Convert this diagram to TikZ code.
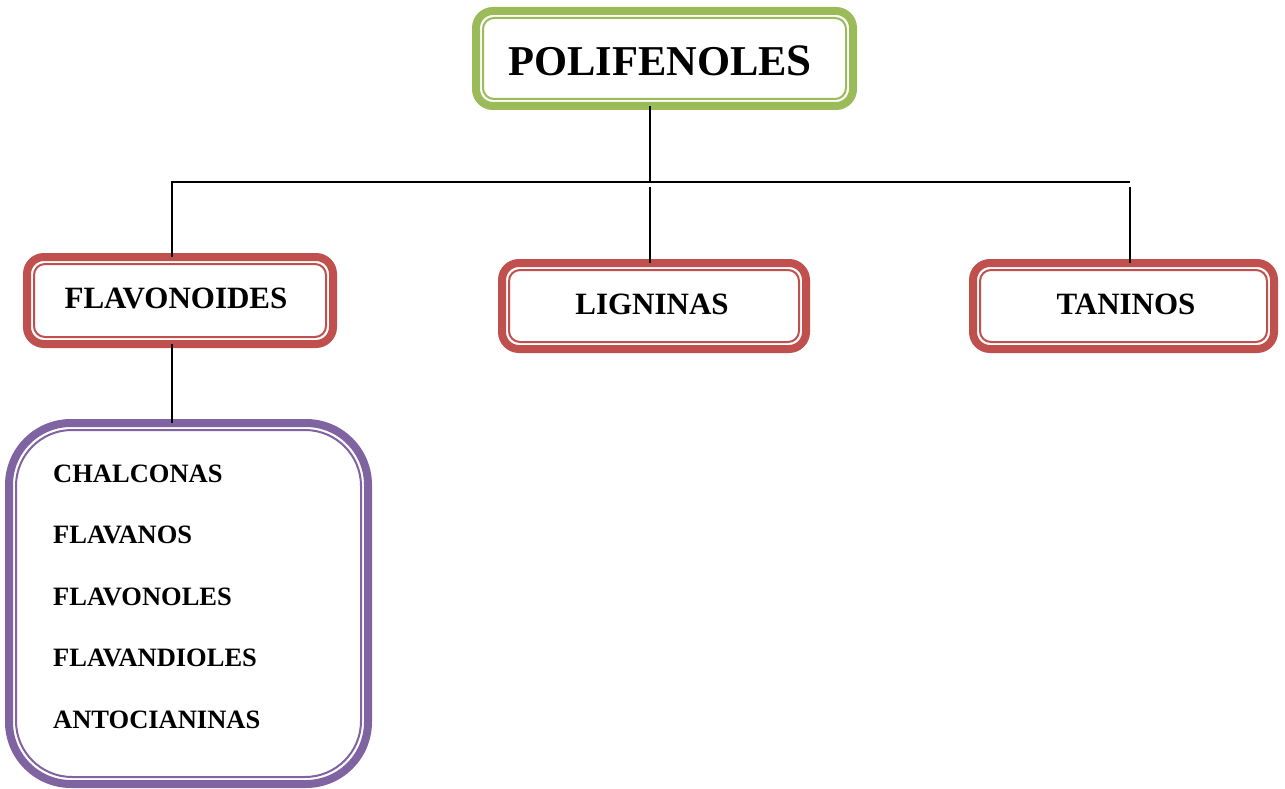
\documentclass[tikz,border=0pt]{standalone}
\usepackage{fontspec}
\setmainfont{Liberation Serif}
\definecolor{cgreen}{HTML}{9BBB59}
\definecolor{cred}{HTML}{C0504D}
\definecolor{cpurple}{HTML}{8064A2}
\tikzset{
  frame/.style={draw=#1, line width=8pt, rounded corners=17pt, outer sep=0pt, inner sep=0pt, fill=white},
  innerframe/.style={draw=#1, line width=2pt, rounded corners=11pt},
  conn/.style={draw=black, line width=1.6pt},
  lab/.style={font=\bfseries, inner sep=0pt, anchor=base},
}
\begin{document}
\begin{tikzpicture}[x=1pt,y=-1pt]
\useasboundingbox (0,0) rectangle (1285,789);
% boxes
\node[frame=cgreen, minimum width=377pt, minimum height=95pt] (poli) at (664.5,58.5) {};
\draw[innerframe=cgreen] ([shift={(7,7)}]poli.north west) rectangle ([shift={(-7,-7)}]poli.south east);
\node[frame=cred, minimum width=306pt, minimum height=87pt] (flav) at (180,300.5) {};
\draw[innerframe=cred] ([shift={(7,7)}]flav.north west) rectangle ([shift={(-7,-7)}]flav.south east);
\node[frame=cred, minimum width=304pt, minimum height=86pt] (lign) at (654,306) {};
\draw[innerframe=cred] ([shift={(7,7)}]lign.north west) rectangle ([shift={(-7,-7)}]lign.south east);
\node[frame=cred, minimum width=301pt, minimum height=86pt] (tan) at (1123.5,306) {};
\draw[innerframe=cred] ([shift={(7,7)}]tan.north west) rectangle ([shift={(-7,-7)}]tan.south east);
\node[frame=cpurple, rounded corners=62pt, minimum width=359pt, minimum height=361pt] (purp) at (188.5,603.5) {};
\draw[innerframe=cpurple, rounded corners=56pt] ([shift={(7,7)}]purp.north west) rectangle ([shift={(-7,-7)}]purp.south east);
% texts
\node[lab, font=\fontsize{42.5}{42.5}\selectfont\bfseries] (tpoli) at (660,76) {POLIFENOLE{\fontsize{45}{45}\selectfont S}};
\node[lab, font=\fontsize{31}{31}\selectfont\bfseries] (tflav) at (176,308) {FLAVONOIDES};
\node[lab, font=\fontsize{31}{31}\selectfont\bfseries] (tlign) at (652,314) {LIGNINAS};
\node[lab, font=\fontsize{31}{31}\selectfont\bfseries] (ttan) at (1126,314) {TANINOS};
\node[lab, anchor=base west, font=\fontsize{26.5}{26.5}\selectfont\bfseries] (t1) at (53,482) {CHALCONAS};
\node[lab, anchor=base west, font=\fontsize{26.5}{26.5}\selectfont\bfseries] (t2) at (53,543.5) {FLAVANOS};
\node[lab, anchor=base west, font=\fontsize{26.5}{26.5}\selectfont\bfseries] (t3) at (53,605) {FLAVONOLES};
\node[lab, anchor=base west, font=\fontsize{26.5}{26.5}\selectfont\bfseries] (t4) at (53,666.5) {FLAVANDIOLES};
\node[lab, anchor=base west, font=\fontsize{26.5}{26.5}\selectfont\bfseries] (t5) at (53,728) {ANTOCIANINAS};
% connectors
\coordinate (jl) at (172,182);
\coordinate (jm) at (650,182);
\coordinate (jr) at (1130,182);
\coordinate (lt) at (650,187);
\coordinate (rt) at (1130,187);
\draw[conn] (poli.south -| jm) -- (jm);
\draw[conn] (flav.north -| jl) |- (jr);
\draw[conn] (lt) -- (lt |- lign.north);
\draw[conn] (rt) -- (rt |- tan.north);
\draw[conn] (flav.south -| jl) -- (jl |- purp.north);
\end{tikzpicture}
\end{document}
